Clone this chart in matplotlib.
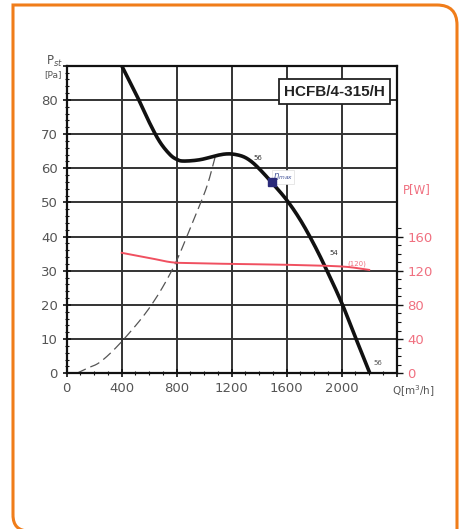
import numpy as np
import matplotlib
matplotlib.use("Agg")
import matplotlib.pyplot as plt
from matplotlib.path import Path
from matplotlib.patches import PathPatch

# ---- data ----
q_fan = [400, 509, 606, 679, 751, 800, 850, 970, 1100, 1170, 1230, 1290, 1345, 1406, 1490,
         1600, 1700, 1800, 1893, 2000, 2100, 2205]
p_fan = [90, 81.3, 73, 67.6, 64.0, 62.6, 62.1, 62.5, 63.8, 64.2, 64.0, 63.3, 61.9, 59.6, 55.9,
         50.7, 44.8, 37.6, 30.0, 20.6, 10.5, 0]
q_sys = [73, 145, 250, 407, 606, 776, 921, 1018, 1079]
p_sys = [0, 1.4, 3.5, 9.6, 19.4, 31, 44.7, 54.5, 63.2]
q_pow = [400, 600, 760, 900, 1200, 1600, 2000, 2200]
w_pow = [141, 135, 130, 129, 128, 127, 125, 121]
q_eta, p_eta = 1490, 55.9
x_ticks = [0, 400, 800, 1200, 1600, 2000]
y_ticks = [0, 10, 20, 30, 40, 50, 60, 70, 80]
w_ticks = [0, 40, 80, 120, 160]
model = "HCFB/4-315/H"


def smooth(x, y, n=20):
    x = np.asarray(x, float); y = np.asarray(y, float)
    P = np.column_stack([x, y])
    P = np.vstack([P[0] * 2 - P[1], P, P[-1] * 2 - P[-2]])
    out = []
    for i in range(1, len(P) - 2):
        p0, p1, p2, p3 = P[i - 1], P[i], P[i + 1], P[i + 2]
        t = np.linspace(0, 1, n, endpoint=False)[:, None]
        pts = 0.5 * ((2 * p1) + (-p0 + p2) * t + (2 * p0 - 5 * p1 + 4 * p2 - p3) * t ** 2
                     + (-p0 + 3 * p1 - 3 * p2 + p3) * t ** 3)
        out.append(pts)
    out.append(P[-2][None, :])
    a = np.vstack(out)
    return a[:, 0], a[:, 1]


fig = plt.figure(figsize=(4.62, 5.29), dpi=100)
W, H = 462, 529

# orange frame: square top-left, rounded top-right and bottom-left, bottom edge below image
def fx(px): return px / W
def fy(py): return 1 - py / H
x0, x1, y0, y1 = 13, 457, 5, 531
rt, rb = 20, 16
verts = [(fx(x0), fy(y1 - rb)), (fx(x0), fy(y0)), (fx(x1 - rt), fy(y0)),
         (fx(x1), fy(y0)), (fx(x1), fy(y0 + rt)), (fx(x1), fy(y1 + 5))]
codes = [Path.MOVETO, Path.LINETO, Path.LINETO, Path.CURVE3, Path.CURVE3, Path.LINETO]
fig.add_artist(PathPatch(Path(verts, codes), transform=fig.transFigure, facecolor="none",
                         edgecolor="#F07D1A", lw=2.2, joinstyle="miter", capstyle="butt",
                         zorder=-1))
verts2 = [(fx(x0), fy(y1 - rb)), (fx(x0), fy(y1)), (fx(x0 + rb), fy(y1))]
codes2 = [Path.MOVETO, Path.CURVE3, Path.CURVE3]
fig.add_artist(PathPatch(Path(verts2, codes2), transform=fig.transFigure, facecolor="none",
                         edgecolor="#F07D1A", lw=2.2, capstyle="butt", zorder=-1))

ax = fig.add_axes([66.7 / W, 1 - 373.3 / H, (396.7 - 66.7) / W, (373.3 - 65.7) / H])
ax.set_xlim(0, 2400)
ax.set_ylim(0, 90)
ax.set_facecolor("none")
ax.set_xticks(x_ticks + [2400])
ax.set_xticklabels([str(v) for v in x_ticks] + [""])
ax.set_yticks(y_ticks + [90])
ax.set_yticklabels([str(v) for v in y_ticks] + [""])
ax.set_xticks(np.arange(0, 2401, 100), minor=True)
ax.set_yticks(np.arange(0, 91, 2), minor=True)
ax.grid(True, which="major", color="#333333", lw=1.4)
for s in ax.spines.values():
    s.set_color("#111111"); s.set_linewidth(1.6)
ax.tick_params(which="both", direction="inout", colors="#111111", labelcolor="#555555",
               labelsize=9.5, top=False, right=False)
ax.tick_params(which="major", length=6, width=1.2)
ax.tick_params(which="minor", length=3, width=0.8)

# system curve
xs, ys = smooth(q_sys, p_sys)
ax.plot(xs, ys, color="#555555", lw=0.9, dashes=(8, 4))
# fan curve
xf, yf = smooth(q_fan, p_fan)
ax.plot(xf, yf, color="#111111", lw=2.6, solid_capstyle="butt", zorder=5)
# power curve on twin axis
ax2 = ax.twinx()
ax2.set_ylim(0, 360)
xp, yp = smooth(q_pow, w_pow)
ax2.plot(xp, yp, color="#F05060", lw=1.4)
ax2.set_yticks(w_ticks)
ax2.set_yticklabels([str(v) for v in w_ticks])
ax2.set_yticks(np.arange(0, 171, 10), minor=True)
ax2.tick_params(which="both", direction="out", colors="#111111", labelcolor="#F07080",
                labelsize=9.5)
ax2.tick_params(which="major", length=4, width=1.0)
ax2.tick_params(which="minor", length=3, width=0.8)
for s in ax2.spines.values():
    s.set_visible(False)

# efficiency marker and labels
ax.plot([q_eta], [p_eta], marker="s", ms=6, color="#2A2A7A", zorder=6)
ax.text(1360, 62.5, "56", fontsize=5, color="#333333")
ax.text(1500, 57, r"$\eta_{max}$", fontsize=6, color="#445599",
        bbox=dict(boxstyle="square,pad=0.15", fc="white", ec="#dddddd", lw=0.5))
ax.text(1910, 34.5, "54", fontsize=5, color="#333333")
ax.text(2230, 2.5, "56", fontsize=5, color="#555555")
ax.text(2040, 31.5, "(120)", fontsize=5, color="#F07080")

# model box
ax.text(0.965, 0.915, model, transform=ax.transAxes, ha="right", va="center",
        fontsize=11, fontweight="bold", color="#222222", family="Liberation Sans",
        bbox=dict(boxstyle="square,pad=0.35", fc="white", ec="#222222", lw=1.3), zorder=10)

# axis labels
fig.text(46 / W, 1 - 61 / H, r"P$_{st}$", fontsize=8.5, color="#555555", va="center")
fig.text(44 / W, 1 - 75 / H, "[Pa]", fontsize=6.5, color="#555555", va="center")
fig.text(403 / W, 1 - 190 / H, "P[W]", fontsize=8.5, color="#F07080", va="center")
fig.text(392 / W, 1 - 391 / H, r"Q[m$^3$/h]", fontsize=7.5, color="#555555", va="center")

fig.savefig("out.png", dpi=100)
